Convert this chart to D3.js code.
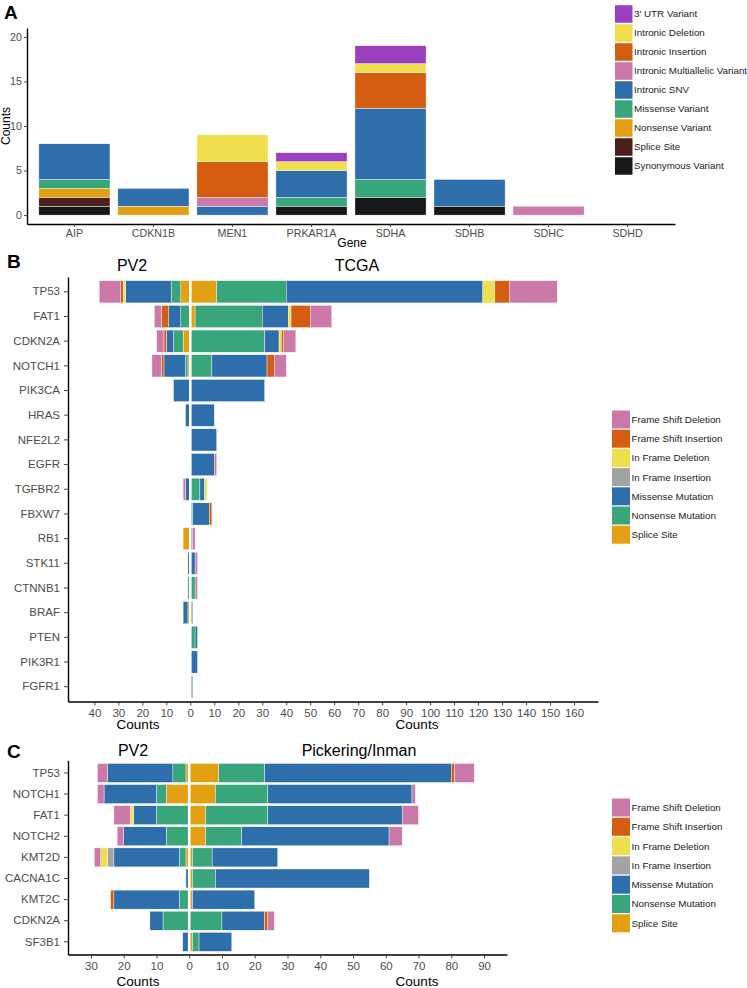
<!DOCTYPE html>
<html><head><meta charset="utf-8">
<script src="https://cdn.jsdelivr.net/npm/d3@7"></script>
<style>body{margin:0;background:#fff;} svg{display:block;font-family:"Liberation Sans",Arial,sans-serif;}</style>
</head><body><svg id="c" width="747" height="988"></svg>
<script>
// ---------- Panel A data ----------
const aGenes = ["AIP","CDKN1B","MEN1","PRKAR1A","SDHA","SDHB","SDHC","SDHD"];
const aTypes = ["3' UTR Variant","Intronic Deletion","Intronic Insertion","Intronic Multiallelic Variant","Intronic SNV","Missense Variant","Nonsense Variant","Splice Site","Synonymous Variant"];
const aUTR          = [0,0,0,1,2,0,0,0];
const aIntronicDel  = [0,0,3,1,1,0,0,0];
const aIntronicIns  = [0,0,4,0,4,0,0,0];
const aMultiallelic = [0,0,1,0,0,0,1,0];
const aIntronicSNV  = [4,2,1,3,8,3,0,0];
const aMissense     = [1,0,0,1,2,0,0,0];
const aNonsense     = [1,1,0,0,0,0,0,0];
const aSplice       = [1,0,0,0,0,0,0,0];
const aSynonymous   = [1,0,0,1,2,1,0,0];
const aTicks = [0,5,10,15,20];

// ---------- Mutation types (B, C) ----------
const mutTypes = ["Frame Shift Deletion","Frame Shift Insertion","In Frame Deletion","In Frame Insertion","Missense Mutation","Nonsense Mutation","Splice Site"];

// ---------- Panel B data ----------
const bGenes = ["TP53","FAT1","CDKN2A","NOTCH1","PIK3CA","HRAS","NFE2L2","EGFR","TGFBR2","FBXW7","RB1","STK11","CTNNB1","BRAF","PTEN","PIK3R1","FGFR1"];
// TCGA (right side)
const bTcgaFSDel    = [20,9,5,5,0,0,0,1,0,0,1,1,1,0,0,0,0];
const bTcgaFSIns    = [6,8,1,3,0,0,0,0,0,1,0,0,0,0,0,0,0];
const bTcgaIFDel    = [5,1,1,0,0,0,0,0,1,0,0,0,0,0,0,0,0];
const bTcgaIFIns    = [0,0,0,0,0,0,0,0,0,0,0,0,0,0,0,0,0];
const bTcgaMissense = [82,11,6,23,31,10,11,10,2,7,1,2,0,1,1,3,1];
const bTcgaNonsense = [29,28,31,9,0,0,0,0,4,1,0,0,2,0,2,0,0];
const bTcgaSplice   = [11,2,0,0,0,0,0,0,0,0,0,0,0,0,0,0,0];
// PV2 (left side)
const bPv2FSDel     = [9,3,3,4,0,0,0,0,1,0,0,0,0,0,0,0,0];
const bPv2FSIns     = [1,3,1,1,0,0,0,0,0,0,0,0,0,0,0,0,0];
const bPv2IFDel     = [1,0,0,0,0,0,0,0,0,0,0,0,0,0,0,0,0];
const bPv2IFIns     = [0,0,0,0,0,0,0,0,0,0,0,0,0,0,0,0,0];
const bPv2Missense  = [19,5,3,9,7,2,0,0,2,0,0,1,0,2,0,0,0];
const bPv2Nonsense  = [4,4,4,1,0,0,0,0,0,0,0,0,1,0,0,0,0];
const bPv2Splice    = [4,0,3,1,0,0,0,0,0,0,3,0,0,1,0,0,0];
const bTicks = [-40,-30,-20,-10,0,10,20,30,40,50,60,70,80,90,100,110,120,130,140,150,160];

// ---------- Panel C data ----------
const cGenes = ["TP53","NOTCH1","FAT1","NOTCH2","KMT2D","CACNA1C","KMT2C","CDKN2A","SF3B1"];
// Pickering/Inman (right side)
const cPiFSDel    = [6,1,5,4,0,0,0,2,0];
const cPiFSIns    = [1,0,0,0,0,0,0,1,0];
const cPiIFDel    = [0,0,0,0,0,0,0,0,0];
const cPiIFIns    = [0,0,0,0,0,0,0,0,0];
const cPiMissense = [57,44,41,45,20,47,19,13,10];
const cPiNonsense = [14,16,19,11,6,7,0,10,2];
const cPiSplice   = [9,8,5,5,1,1,1,0,1];
// PV2 (left side)
const cPvFSDel    = [3,2,5,2,2,0,0,0,0];
const cPvFSIns    = [0,0,0,0,0,0,1,0,0];
const cPvIFDel    = [0,0,1,0,2,0,0,0,0];
const cPvIFIns    = [0,0,0,0,2,0,0,0,0];
const cPvMissense = [20,16,7,13,20,1,20,4,2];
const cPvNonsense = [4,3,10,7,2,0,3,8,0];
const cPvSplice   = [1,7,0,0,1,0,0,0,0];
const cTicks = [-30,-20,-10,0,10,20,30,40,50,60,70,80,90];

// ---------- styles ----------
const FONT = '"Liberation Sans",Arial,sans-serif';
const aColor = {"3' UTR Variant":"#9a3fbd","Intronic Deletion":"#efdf4e","Intronic Insertion":"#d45d12",
  "Intronic Multiallelic Variant":"#cb79a9","Intronic SNV":"#2e6fab","Missense Variant":"#39a57a",
  "Nonsense Variant":"#e3a012","Splice Site":"#4b201b","Synonymous Variant":"#151818"};
const mColor = {"Frame Shift Deletion":"#cb79a9","Frame Shift Insertion":"#d45d12","In Frame Deletion":"#efdf4e",
  "In Frame Insertion":"#a3a3a3","Missense Mutation":"#2e6fab","Nonsense Mutation":"#39a57a","Splice Site":"#e3a012"};

const svg = d3.select("#c");

function styleAxis(g, fs){
  g.attr("font-family", FONT).attr("font-size", fs);
  g.select(".domain").attr("stroke","#000").attr("stroke-width",1.4);
  g.selectAll(".tick line").attr("stroke","#333").attr("stroke-width",0.9);
  g.selectAll(".tick text").attr("fill","#4d4d4d");
}
function txt(x,y,s,size,opts={}){
  const t = svg.append("text").attr("x",x).attr("y",y).text(s)
    .attr("font-size",size).attr("font-family",FONT).attr("fill",opts.fill||"#000")
    .attr("text-anchor",opts.anchor||"start");
  if(opts.bold) t.attr("font-weight","bold");
  return t;
}
function legend(x, cy0, step, size, items, colors){
  const g = svg.append("g");
  items.forEach((k,i)=>{
    const cy = cy0 + i*step;
    g.append("rect").attr("x",x).attr("y",cy-size/2).attr("width",size).attr("height",size).attr("fill",colors[k]);
    g.append("text").attr("x",x+size+1.5).attr("y",cy).attr("dy","0.35em").text(k)
      .attr("font-size",9.8).attr("font-family",FONT).attr("fill","#222");
  });
}

// ---------- Panel A ----------
{
  const keys = ["Synonymous Variant","Splice Site","Nonsense Variant","Missense Variant","Intronic SNV",
    "Intronic Multiallelic Variant","Intronic Insertion","Intronic Deletion","3' UTR Variant"];
  const src = {"3' UTR Variant":aUTR,"Intronic Deletion":aIntronicDel,"Intronic Insertion":aIntronicIns,
    "Intronic Multiallelic Variant":aMultiallelic,"Intronic SNV":aIntronicSNV,"Missense Variant":aMissense,
    "Nonsense Variant":aNonsense,"Splice Site":aSplice,"Synonymous Variant":aSynonymous};
  const rows = aGenes.map((g,i)=>{const r={gene:g}; aTypes.forEach(t=>r[t]=src[t][i]); return r;});
  const x = d3.scaleBand().domain(aGenes).range([27,675]).paddingInner(0.1).paddingOuter(0.15);
  const y = d3.scaleLinear().domain([-1,21]).range([224,28]);
  const st = d3.stack().keys(keys)(rows);
  svg.append("g").selectAll("g").data(st).join("g").attr("fill",d=>aColor[d.key])
    .selectAll("rect").data(d=>d.filter(v=>v[1]>v[0])).join("rect")
    .attr("x",d=>x(d.data.gene)).attr("width",x.bandwidth())
    .attr("y",d=>y(d[1])).attr("height",d=>y(d[0])-y(d[1]))
    .attr("stroke","#fff").attr("stroke-width",0.4);
  const gy = svg.append("g").attr("transform","translate(27,0)")
    .call(d3.axisLeft(y).tickValues(aTicks).tickSize(3).tickPadding(2).tickSizeOuter(0));
  styleAxis(gy,10.7);
  const gx = svg.append("g").attr("transform","translate(0,224)")
    .call(d3.axisBottom(x).tickSize(3).tickPadding(2).tickSizeOuter(0));
  styleAxis(gx,10.7);
  txt(4,19,"A",19,{bold:true});
  txt(352,247,"Gene",12,{anchor:"middle"});
  txt(0,0,"Counts",12,{anchor:"middle"}).attr("transform","translate(9.5,126) rotate(-90)");
  legend(615,14,19,17.5,aTypes,aColor);
}

// ---------- diverging panels ----------
const stackKeys = ["Splice Site","Nonsense Mutation","Missense Mutation","In Frame Insertion","In Frame Deletion","Frame Shift Insertion","Frame Shift Deletion"];
function rowsFrom(genes, arrs){
  return genes.map((g,i)=>{const r={gene:g}; mutTypes.forEach((t,j)=>r[t]=arrs[j][i]); return r;});
}
function diverging(cfg){
  const x = d3.scaleLinear().domain(cfg.xDomain).range(cfg.xRange);
  const y = d3.scaleBand().domain(cfg.genes).range(cfg.yRange).paddingInner(0.1).paddingOuter(0.15);
  const stk = d3.stack().keys(stackKeys);
  [[cfg.left,-1],[cfg.right,1]].forEach(([rows,sg])=>{
    svg.append("g").selectAll("g").data(stk(rows)).join("g").attr("fill",d=>mColor[d.key])
      .selectAll("rect").data(d=>d.filter(v=>v[1]>v[0])).join("rect")
      .attr("x",d=>Math.min(x(sg*d[0]),x(sg*d[1])))
      .attr("width",d=>Math.abs(x(sg*d[1])-x(sg*d[0])))
      .attr("y",d=>y(d.data.gene)).attr("height",y.bandwidth())
      .attr("stroke","#fff").attr("stroke-width",0.4);
  });
  svg.append("line").attr("x1",x(0)).attr("x2",x(0)).attr("y1",cfg.yRange[0]).attr("y2",cfg.yRange[1])
    .attr("stroke","#fff").attr("stroke-width",2.6);
  const gy = svg.append("g").attr("transform",`translate(${cfg.xRange[0]},0)`)
    .call(d3.axisLeft(y).tickSize(4).tickPadding(4).tickSizeOuter(0));
  styleAxis(gy,11.5);
  const gx = svg.append("g").attr("transform",`translate(0,${cfg.yRange[1]})`)
    .call(d3.axisBottom(x).tickValues(cfg.ticks).tickFormat(d=>Math.abs(d)).tickSize(4).tickPadding(3).tickSizeOuter(0));
  styleAxis(gx,11.5);
  return x;
}

// ---------- Panel B ----------
{
  const left = rowsFrom(bGenes,[bPv2FSDel,bPv2FSIns,bPv2IFDel,bPv2IFIns,bPv2Missense,bPv2Nonsense,bPv2Splice]);
  const right = rowsFrom(bGenes,[bTcgaFSDel,bTcgaFSIns,bTcgaIFDel,bTcgaIFIns,bTcgaMissense,bTcgaNonsense,bTcgaSplice]);
  diverging({genes:bGenes,left,right,xDomain:[-51,170],xRange:[68,598],yRange:[277,701.5],ticks:bTicks});
  txt(7,268,"B",19,{bold:true});
  txt(132,271,"PV2",16,{anchor:"middle"});
  txt(357,271,"TCGA",16,{anchor:"middle"});
  txt(138,729,"Counts",13.5,{anchor:"middle"});
  txt(417,729,"Counts",13.5,{anchor:"middle"});
  legend(612,419.5,19.2,18,mutTypes,mColor);
}

// ---------- Panel C ----------
{
  const left = rowsFrom(cGenes,[cPvFSDel,cPvFSIns,cPvIFDel,cPvIFIns,cPvMissense,cPvNonsense,cPvSplice]);
  const right = rowsFrom(cGenes,[cPiFSDel,cPiFSIns,cPiIFDel,cPiIFIns,cPiMissense,cPiNonsense,cPiSplice]);
  diverging({genes:cGenes,left,right,xDomain:[-37,97],xRange:[68,507],yRange:[760.3,954.5],ticks:cTicks});
  txt(7,758,"C",19,{bold:true});
  txt(133,756,"PV2",16,{anchor:"middle"});
  txt(359,756,"Pickering/Inman",16,{anchor:"middle"});
  txt(138,986,"Counts",13.5,{anchor:"middle"});
  txt(417,986,"Counts",13.5,{anchor:"middle"});
  legend(612,807.5,19.3,18,mutTypes,mColor);
}
</script></body></html>
